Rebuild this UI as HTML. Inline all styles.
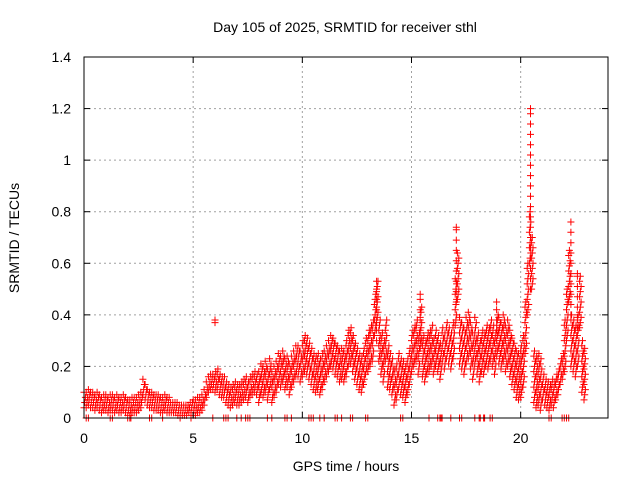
<!DOCTYPE html>
<html><head><meta charset="utf-8">
<style>
body{margin:0;background:#fff;}
svg{display:block;font-family:"Liberation Sans",sans-serif;}
</style></head>
<body>
<svg id="chart" width="640" height="480">
<rect x="0" y="0" width="640" height="480" fill="#fff"/>
<g id="grid"></g>
<g id="marks"></g>
<rect x="84" y="57" width="524" height="361" fill="none" stroke="#000" stroke-width="1"/>
<g id="ticks"></g>
<text x="345" y="32" text-anchor="middle" font-size="14">Day 105 of 2025, SRMTID for receiver sthl</text>
<text x="346" y="471" text-anchor="middle" font-size="14">GPS time / hours</text>
<text transform="translate(19,238) rotate(-90)" text-anchor="middle" font-size="14">SRMTID / TECUs</text>
</svg>
<script>
const xTicks=[0,5,10,15,20];
const yTicks=[0,0.2,0.4,0.6,0.8,1,1.2,1.4];
const yTickLabels=["0","0.2","0.4","0.6","0.8","1","1.2","1.4"];
const centers=[.07,.07,.08,.07,.07,.06,.07,.06,.05,.06,
.06,.05,.06,.06,.05,.06,.05,.05,.06,.05,
.04,.04,.05,.05,.05,.06,.07,.12,.10,.08,
.07,.07,.06,.06,.06,.05,.05,.06,.05,.05,
.04,.04,.04,.03,.03,.03,.03,.03,.04,.04,
.04,.04,.05,.05,.06,.08,.11,.13,.14,.14,
.14,.15,.13,.12,.12,.10,.09,.08,.09,.10,
.09,.09,.10,.11,.12,.10,.12,.13,.14,.13,
.12,.15,.14,.16,.13,.17,.12,.14,.16,.19,
.18,.20,.17,.18,.15,.18,.20,.22,.22,.20,
.23,.25,.24,.22,.20,.18,.17,.18,.16,.18,
.20,.22,.24,.26,.25,.23,.22,.20,.21,.20,
.23,.27,.28,.25,.22,.20,.18,.17,.20,.24,
.26,.28,.30,.40,.45,.30,.25,.22,.30,.20,
.18,.16,.12,.14,.18,.16,.15,.13,.16,.20,
.26,.28,.30,.25,.35,.24,.22,.25,.26,.28,
.24,.27,.25,.22,.28,.26,.30,.28,.26,.30,
.45,.55,.30,.28,.26,.30,.32,.28,.24,.30,
.25,.22,.26,.25,.28,.27,.30,.28,.25,.32,
.30,.28,.31,.27,.29,.25,.22,.20,.17,.16,
.18,.22,.35,.50,.70,.60,.16,.14,.15,.13,
.12,.10,.09,.08,.10,.09,.12,.14,.18,.20,
.28,.40,.55,.30,.28,.26,.30,.45,.20,.17];
const spreadByHour=[.03,.03,.03,.03,.02,.03,.04,.04,.06,.06,.07,.06,.07,.08,.07,.08,.07,.09,.08,.09,.10,.05,.10];
const spikeHours=[13.4,17.05,20.45,22.3,6.0,15.4,18.9,22.6];
const spikeLow=[.30,.45,.50,.40,.37,.30,.30,.35];
const spikeHigh=[.53,.74,1.2,.76,.38,.48,.45,.56];
const zeroHours=[0.1,0.2,1.2,1.3,2.0,2.1,2.15,3.0,3.1,3.6,4.4,4.9,5.9,6.4,6.5,6.6,7.0,7.2,7.4,7.5,7.6,8.4,8.6,9.2,9.3,9.5,10.3,10.4,10.5,10.8,11.0,11.5,11.6,11.8,12.2,12.3,12.9,13.0,14.5,14.6,15.8,16.2,16.3,16.35,16.4,16.8,17.2,17.3,17.9,18.1,18.15,18.3,18.35,18.6,18.7,21.3,21.4,21.9,22.0,22.1,22.2];
const step=0.1;

const NS="http://www.w3.org/2000/svg";
const X0=84,X1=608,Y0=418,Y1=57,XMAX=24,YMAX=1.4;
const xs=h=>X0+(h/XMAX)*(X1-X0);
const ys=v=>Y0-(v/YMAX)*(Y0-Y1);
const grid=document.getElementById('grid'),ticks=document.getElementById('ticks'),marks=document.getElementById('marks');
function el(tag,attrs,parent){const e=document.createElementNS(NS,tag);for(const k in attrs)e.setAttribute(k,attrs[k]);parent.appendChild(e);return e;}

xTicks.forEach(t=>{
  const x=xs(t);
  if(t>0){const g=el('line',{x1:x,y1:Y0,x2:x,y2:Y1,stroke:'#a0a0a0','stroke-dasharray':'2,3'},grid);
  
  }
  const a=el('line',{x1:x,y1:Y0,x2:x,y2:Y0-6,stroke:'#000'},ticks);
  
  
  const b=el('line',{x1:x,y1:Y1,x2:x,y2:Y1+6,stroke:'#000'},ticks);
  
  
  const l=el('text',{x:x,y:443,'text-anchor':'middle','font-size':'14'},ticks);l.textContent=String(t);
  
  
});
yTicks.forEach((t,i)=>{
  const y=ys(t);
  if(t>0&&t<1.4){const g=el('line',{x1:X0,y1:y,x2:X1,y2:y,stroke:'#a0a0a0','stroke-dasharray':'2,3'},grid);
  
  }
  const a=el('line',{x1:X0,y1:y,x2:X0+6,y2:y,stroke:'#000'},ticks);
  
  
  const b=el('line',{x1:X1,y1:y,x2:X1-6,y2:y,stroke:'#000'},ticks);
  
  
  const l=el('text',{x:71,y:y+5,'text-anchor':'end','font-size':'14'},ticks);l.textContent=yTickLabels[i];
  
  
});

let d='';
function plus(h,v){const x=xs(h),y=ys(v);d+='M'+(x-3.5).toFixed(1)+' '+y.toFixed(1)+'h7M'+x.toFixed(1)+' '+(y-3.5).toFixed(1)+'v7';}
centers.forEach((c,i)=>{
  const h=i*step;const s=spreadByHour[Math.min(Math.floor(h),spreadByHour.length-1)];
  let k=0;
  for(let v=c-s;v<=c+s+1e-9;v+=0.02){plus(h+(k%3)*0.033,Math.max(0.005,v));k++;}
});
spikeHours.forEach((h,i)=>{for(let v=spikeLow[i];v<=spikeHigh[i]+1e-9;v+=0.04)plus(h,v);plus(h,spikeHigh[i]);});
zeroHours.forEach(h=>plus(h,0));
const p=el('path',{d:d,stroke:'#ff0000','stroke-width':'1',fill:'none'},marks);


</script>
</body></html>
